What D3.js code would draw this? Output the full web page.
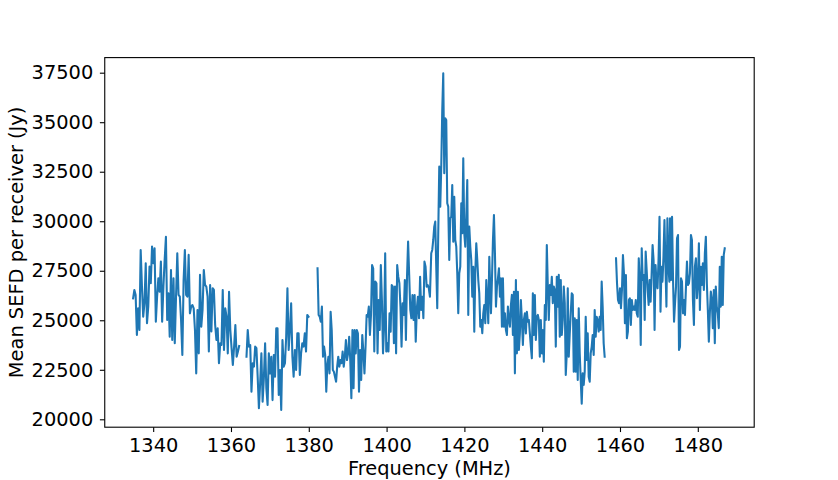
<!DOCTYPE html>
<html><head><meta charset="utf-8">
<script src="https://cdn.jsdelivr.net/npm/d3@7"></script>
<style>
body{margin:0;background:#fff;}
svg{display:block;}
text{font-family:"DejaVu Sans",sans-serif;}
</style>
</head><body>
<svg id="chart" width="838" height="480"></svg>
<script>
// Tick labels
const freqTicks = [1340, 1360, 1380, 1400, 1420, 1440, 1460, 1480];
const sefdTicks = [20000, 22500, 25000, 27500, 30000, 32500, 35000, 37500];

// Each run: first and last frequency (MHz) of evenly spaced channels; runs sharing a segment are joined
const runFreqRanges = [[1334.84,1362.10],[1363.99,1379.93],[1382.25,1411.14],[1411.48,1426.40],[1426.83,1456.06],[1458.98,1472.70],[1472.87,1486.93]];
const runSegment = [0, 1, 2, 2, 2, 3, 3];

// Mean SEFD per receiver (Jy)
const sefdRunA = [26110,26530,26280,24260,25600,24510,28550,26700,25180,25860,27880,24850,25690,27710,26870,28720,27880,28640,24930,26190,27120,26440,27960,24930,26700,28050,29220,25010,26360,24170,27540,24000,27120,23840,26190,28380,26280,26190,25010,23250,27030,28550,26280,26190,28300,25350,25690,25770,25600,24510,22320,25520,23330,27290,24680,25520,27540,26780,26700,26190,23420,26780,24430,26620,26530,24760,24005,24600,22830,23840,23750,26530,23500,25605,25180,23330,26440,24510,23590,22740,23670,24760,23160,23410,23700];
const sefdRunB = [23160,24510,23670,23750,21390,22830,22660,23670,23590,22150,20560,21820,23330,20890,22070,23840,21570,20720,23330,22320,23160,20970,23250,22150,24600,24600,21230,22490,20470,24000,22660,22830,24170,26620,23500,24510,25860,23160,22150,23500,22490,24340,24340,22240,23330,23840,23670,24340,23420,25270,25180];
const sefdRunC1 = [27625,25270,25180,24930,25690,23160,23670,23250,21390,22740,23160,22320,25430,24510,22490,22400,22150,21900,22660,23160,22660,22990,22830,23420,22660,23160,24000,22990,23330,24170,22990,21060,24510,21570,24510,23330,24510,24340,21390,23500,21985,24260,23420,22320,23670,25270,25180,25690,24260,25270,27790,27625,23420,26950,26870,23330,26025,24510,27790,26025,23330,24680,28380,23420,23840,23420,25350,24425,26780,26700,23840,26700,23330,27790,27200,26870,25690,23670,25860,25270,27035,24005,27200,28970,27290,25520,25100,26277,25015,26277,23920,25605,26190,25100,27200,25520,26190,25100,27960,27705,26700,26780,26615,26190];
const sefdRunC2 = [28383,28550,29055,29726,29980,27706,25605,29393,32756,30736,32756,35620,37473,32420,35200,35115,30908,30736,28045,30150,30230,31832,28970,31240,29055,28716,27373,25353,27373,27706,30908,29393,33180,29393,28716,30230,32085,25270,29726,28716,28045,26190,27706,24425,27373,28888,28045,27035,26363,24676,25015,24343,25353,25772,24848,27035,26025,24848,28211];
const sefdRunC3 = [25350,27035,29055,30317,28383,25690,26700,27120,27625,26190,27120,24676,27120,24676,25350,24510,24260,25690,25015,24676,25770,26280,24260,26440,22320,27035,23330,26440,23500,24340,26025,25015,23750,25015,25350,24340,25430,24930,25015,24340,23670,23080,26360,24260,26280,24000,25180,25270,25015,23160,25015,23330,24510,22910,25770,25015,28800,26700,25015,26780,26280,27200,25860,26700,26530,23670,27200,25690,27290,24170,27035,24260,25015,26700,25860,22240,23330,26620,23160,24340,25350,26360,26280,22400,25100,22400,25015,21985,25605,23330,21985,20790,22320,21740,22400,25180,22990,24340,22150,21900,23330,23670,24260,23250,25520,24170,25180,25015,24430,25180,24510,26950,25690,23840,23160];
const sefdRunD1 = [28130,26870,26025,25860,26615,25605,26530,28297,27373,24848,27287,24090,24425,26025,26110,24760,26025,25520,25690,25520,26025,25350,25180,28130,27035,23750,28635,27035,27287,25015,28465,27540,26530,25770,27035,25940,27287,28800,28045,24510,27790,26870,26615,28045,30230,25430,27705,26950,28210,30065,27790,25690,30150,27705,26950];
const sefdRunD2 = [30150,27035,30230,27035,24930,25860,26700,29140,29305,23500,23670,27120,26950,25350,26025,25270,26700,27960,26780,26870,27373,29305,29055,26025,24760,27705,28130,26110,26870,28890,25520,27705,26780,27880,26530,28380,29220,26870,25520,23920,25350,26445,26025,24600,26530,23840,26700,25690,25350,24600,27705,25690,28210,25770,28297,28635];

const runValues = [sefdRunA, sefdRunB, sefdRunC1, sefdRunC2, sefdRunC3, sefdRunD1, sefdRunD2];

const W = 838, H = 480;
const plot = {left: 104.75, right: 754.2, top: 57.6, bottom: 427.2};
const FS = 19.4;

const svg = d3.select("#chart");
svg.append("rect").attr("width", W).attr("height", H).attr("fill", "#fff");

const x = d3.scaleLinear().domain([1327.55, 1494.5]).range([plot.left, plot.right]);
const y = d3.scaleLinear().domain([19601, 38262]).range([plot.bottom, plot.top]);

// Build segments
const segments = [];
runValues.forEach((vals, r) => {
  const [f0, f1] = runFreqRanges[r];
  const n = vals.length;
  const pts = vals.map((v, i) => [f0 + i * (f1 - f0) / (n - 1), v]);
  const s = runSegment[r];
  if (!segments[s]) segments[s] = [];
  segments[s].push(...pts);
});

const line = d3.line().x(d => x(d[0])).y(d => y(d[1]));

const g = svg.append("g");
g.selectAll("path.series").data(segments).enter().append("path")
  .attr("class", "series")
  .attr("d", line)
  .attr("fill", "none")
  .attr("stroke", "#1f77b4")
  .attr("stroke-width", 2.08)
  .attr("stroke-linejoin", "round")
  .attr("stroke-linecap", "square");

// Axes
const xAxis = d3.axisBottom(x).tickValues(freqTicks).tickFormat(d3.format("d"))
  .tickSize(4.86).tickSizeOuter(0).tickPadding(5.8);
const yAxis = d3.axisLeft(y).tickValues(sefdTicks).tickFormat(d3.format("d"))
  .tickSize(4.86).tickSizeOuter(0).tickPadding(6.6);

const gx = svg.append("g").attr("transform", `translate(0,${plot.bottom})`).call(xAxis);
const gy = svg.append("g").attr("transform", `translate(${plot.left},0)`).call(yAxis);
[gx, gy].forEach(a => {
  a.select(".domain").remove();
  a.selectAll(".tick line").attr("stroke", "#000").attr("stroke-width", 1.1);
  a.selectAll(".tick text").attr("fill", "#000").style("font-size", FS + "px")
    .style("font-family", "'DejaVu Sans', sans-serif");
});

// Frame (spines)
svg.append("rect")
  .attr("x", plot.left).attr("y", plot.top)
  .attr("width", plot.right - plot.left).attr("height", plot.bottom - plot.top)
  .attr("fill", "none").attr("stroke", "#000").attr("stroke-width", 1.1);

// Axis labels
svg.append("text")
  .attr("x", (plot.left + plot.right) / 2).attr("y", 475)
  .attr("text-anchor", "middle").style("font-size", FS + "px").attr("fill", "#000")
  .text("Frequency (MHz)");
svg.append("text")
  .attr("transform", `translate(23,${(plot.top + plot.bottom) / 2}) rotate(-90)`)
  .attr("text-anchor", "middle").style("font-size", FS + "px").attr("fill", "#000")
  .text("Mean SEFD per receiver (Jy)");
</script>
</body></html>
